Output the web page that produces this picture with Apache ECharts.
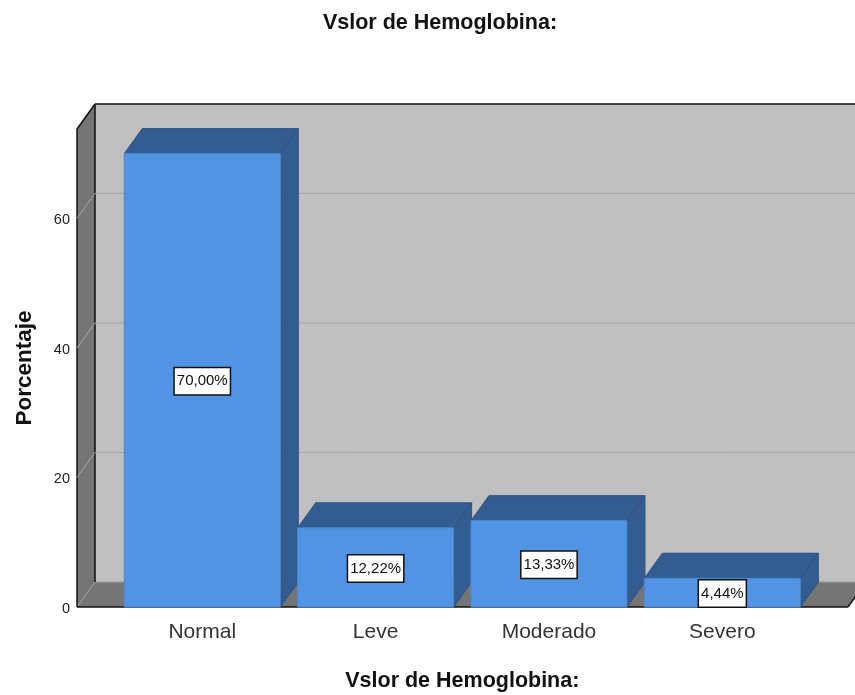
<!DOCTYPE html>
<html><head><meta charset="utf-8">
<style>html,body{margin:0;padding:0;background:#fff}#c{width:855px;height:695px}</style>
<script src="https://cdn.jsdelivr.net/npm/echarts@6/dist/echarts.min.js"></script>
</head><body><div id="c"></div>
<script>
const categories = ['Normal', 'Leve', 'Moderado', 'Severo'];
const percentages = [70.00, 12.22, 13.33, 4.44];
const yTicks = [0, 20, 40, 60];
const titleText = 'Vslor de Hemoglobina:';
const yName = 'Porcentaje';

const DX = 18, DY = -25, WALL_LEFT = 38.6, WALL_RIGHT = 39;
const BAR_RATIO = 0.9;
const FRONT = '#5294e4', DARK = '#335c91', BACK = '#bfbfbf', WALL = '#757575';
const GRID = '#a6a6a6', INK = '#111';
const font = 'Liberation Sans, Arial, sans-serif';

function poly(points, fill, stroke, w) {
  return { type: 'polygon', shape: { points }, style: { fill, stroke: stroke || 'none', lineWidth: w || 0 } };
}
function line(x1, y1, x2, y2, stroke, w) {
  return { type: 'line', shape: { x1, y1, x2, y2 }, style: { stroke, lineWidth: w || 1, fill: 'none' } };
}

const chart = echarts.init(document.getElementById('c'), null, { renderer: 'canvas' });
chart.setOption({
  animation: false,
  backgroundColor: '#fff',
  title: {
    text: titleText, left: 435, top: 7, textAlign: 'center',
    textStyle: { fontFamily: font, fontSize: 21.5, fontWeight: 'bold', color: '#111' }
  },
  grid: { left: 115.6, width: 693.4, top: 129, height: 478, outerBoundsMode: 'none' },
  xAxis: {
    type: 'category', data: categories,
    axisLine: { show: false }, axisTick: { show: false }, splitLine: { show: false },
    axisLabel: { fontFamily: font, fontSize: 21, color: '#333', margin: 15 },
    name: titleText, nameLocation: 'middle', nameGap: 63,
    nameTextStyle: { fontFamily: font, fontSize: 21.5, fontWeight: 'bold', color: '#111' }
  },
  yAxis: {
    type: 'value', min: 0, max: 73.8, offset: WALL_LEFT,
    axisLine: { show: false }, splitLine: { show: false },
    axisTick: { show: false },
    axisLabel: { customValues: yTicks, fontFamily: font, fontSize: 14.5, color: '#222', margin: 7, verticalAlign: 'top', lineHeight: 4 },
    name: yName, nameLocation: 'middle', nameRotate: 90, nameGap: 41,
    nameTextStyle: { fontFamily: font, fontSize: 22.5, fontWeight: 'bold', color: '#111' }
  },
  series: [
    {
      type: 'custom', silent: true, z: 1,
      data: [[0, 0]],
      renderItem(params, api) {
        const cs = params.coordSys;
        const yb = api.coord([0, 0])[1], yt = cs.y;
        const xl = cs.x - WALL_LEFT, xr = cs.x + cs.width + WALL_RIGHT;
        return { type: 'group', children: [
          poly([[xl + DX, yt + DY], [xr + DX, yt + DY], [xr + DX, yb + DY], [xl + DX, yb + DY]], BACK),
          poly([[xl, yt], [xl + DX, yt + DY], [xl + DX, yb + DY], [xl, yb]], WALL),
          poly([[xl, yb], [xl + DX, yb + DY], [xr + DX, yb + DY], [xr, yb]], WALL),
          line(xl + DX, yb + DY, xr + DX, yb + DY, '#9a9a9a', 1),
          line(xl, yb, xl + DX, yb + DY, '#a0a0a0', 1),
          line(xl + DX, yt + DY, xr + DX, yt + DY, INK, 1.5),
          line(xl + DX, yt + DY, xl + DX, yb + DY, INK, 1.5),
          line(xl, yt, xl + DX, yt + DY, INK, 1.5),
          line(xl, yt, xl, yb, INK, 1.5),
          line(xl, yb, xr, yb, INK, 1.5),
          line(xr, yb, xr + DX, yb + DY, INK, 1.5)
        ] };
      }
    },
    {
      type: 'custom', silent: true, z: 2,
      data: yTicks.filter(v => v > 0).map(v => [0, v]),
      encode: { x: 0, y: 1 },
      renderItem(params, api) {
        const cs = params.coordSys;
        const y = api.coord([0, api.value(1)])[1];
        const xl = cs.x - WALL_LEFT, xr = cs.x + cs.width + WALL_RIGHT;
        return { type: 'group', children: [
          line(xl, y, xl + DX, y + DY, '#a8a8a8', 1),
          line(xl + DX, y + DY, xr + DX, y + DY, GRID, 1)
        ] };
      }
    },
    {
      type: 'custom', z: 3,
      data: percentages.map((v, i) => [i, v]),
      encode: { x: 0, y: 1 },
      renderItem(params, api) {
        const c0 = api.coord([api.value(0), 0]);
        const c1 = api.coord([api.value(0), api.value(1)]);
        const w = api.size([1, 0])[0] * BAR_RATIO;
        const l = c0[0] - w / 2, r = c0[0] + w / 2, b = c0[1], t = c1[1];
        const txt = api.value(1).toFixed(2).replace('.', ',') + '%';
        return { type: 'group', children: [
          poly([[r, t], [r + DX, t + DY], [r + DX, b + DY], [r, b]], DARK, '#2d5282', 1),
          poly([[l, t], [l + DX, t + DY], [r + DX, t + DY], [r, t]], DARK, '#2d5282', 1),
          poly([[l, t], [r, t], [r, b], [l, b]], FRONT, '#4a86cf', 1),
          { type: 'text', x: c0[0], y: (t + b) / 2 + 1,
            style: { text: txt, align: 'center', verticalAlign: 'middle', fill: '#111',
                     fontFamily: font, fontSize: 15, backgroundColor: '#fff',
                     borderColor: '#111', borderWidth: 1.5, padding: [6, 2, 5, 2] } }
        ] };
      }
    }
  ]
});
</script></body></html>
